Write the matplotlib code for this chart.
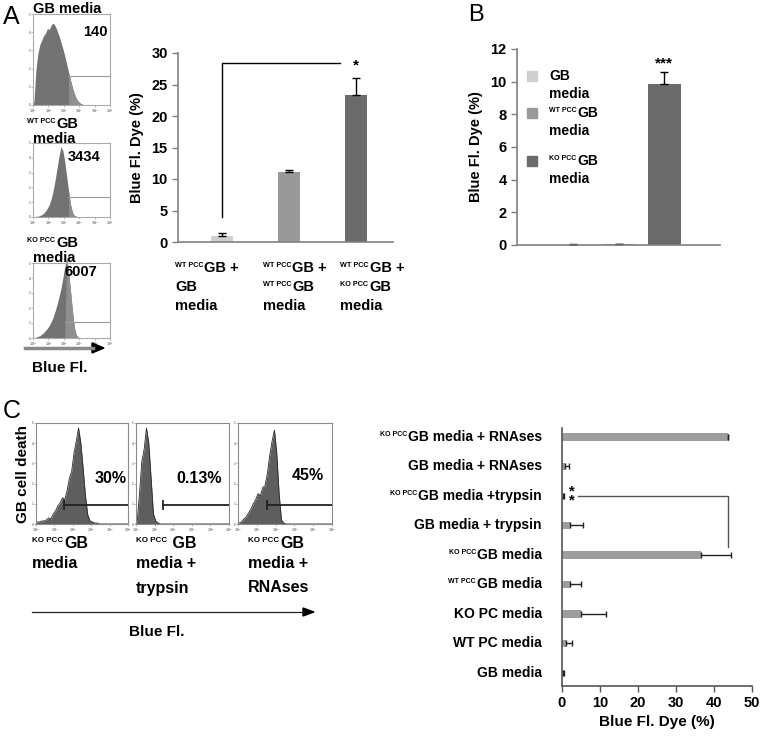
import matplotlib
matplotlib.use("Agg")
import matplotlib.pyplot as plt
import matplotlib.transforms as mtrans
import numpy as np

FONT = 'Liberation Sans'
plt.rcParams['font.family'] = [FONT, 'DejaVu Sans']
plt.rcParams['font.weight'] = 'bold'
plt.rcParams['axes.labelweight'] = 'bold'

W, H = 762, 737

# ---------------- data ----------------
# Panel A flow histograms (fraction of box height, 40 points across log axis)
histA_sup = ["", "WT PCC", "KO PCC"]
histA_main = ["GB media", "GB", "GB"]
histA_counts = ["140", "3434", "6007"]
histA1 = [0.04, 0.38, 0.56, 0.66, 0.71, 0.76, 0.79, 0.84, 0.83, 0.88,
          0.90, 0.87, 0.82, 0.76, 0.69, 0.62, 0.54, 0.45, 0.36, 0.27,
          0.19, 0.12, 0.07, 0.04, 0.02, 0.01, 0, 0, 0, 0,
          0, 0, 0, 0, 0, 0, 0, 0, 0, 0]
histA2 = [0.0, 0.01, 0.01, 0.02, 0.03, 0.05, 0.08, 0.12, 0.17, 0.25,
          0.36, 0.50, 0.66, 0.82, 0.95, 0.90, 0.75, 0.55, 0.35, 0.17,
          0.06, 0.02, 0.01, 0, 0, 0, 0, 0, 0, 0,
          0, 0, 0, 0, 0, 0, 0, 0, 0, 0]
histA3 = [0.0, 0.01, 0.02, 0.03, 0.05, 0.07, 0.10, 0.13, 0.17, 0.22,
          0.28, 0.36, 0.45, 0.55, 0.66, 0.80, 0.95, 1.07, 0.88, 0.62,
          0.36, 0.14, 0.04, 0.01, 0, 0, 0, 0, 0, 0,
          0, 0, 0, 0, 0, 0, 0, 0, 0, 0]

# Panel A bar chart
barA_lines = [[("WT PCC", "GB +"), ("", "GB"), ("", "media")],
              [("WT PCC", "GB +"), ("WT PCC", "GB"), ("", "media")],
              [("WT PCC", "GB +"), ("KO PCC", "GB"), ("", "media")]]
barA_values = [1.0, 11.1, 23.3]
barA_errors = [0.4, 0.3, 2.8]
bar_colors = ["#cfcfcf", "#999999", "#6b6b6b"]

# Panel B bar chart
barB_sup = ["", "WT PCC", "KO PCC"]
barB_main = ["GB", "GB", "GB"]
barB_values = [0.03, 0.04, 9.85]
barB_errors = [0.04, 0.03, 0.75]

# Panel C flow histograms
histC_lines = [[("KO PCC", "GB"), ("", "media")],
               [("KO PCC", " GB"), ("", "media +"), ("", "trypsin")],
               [("KO PCC", "GB"), ("", "media +"), ("", "RNAses")]]
histC_pcts = ["30%", "0.13%", "45%"]
histC1 = [0.02, 0.02, 0.03, 0.03, 0.04, 0.06, 0.05, 0.10, 0.13, 0.18,
          0.21, 0.26, 0.24, 0.33, 0.45, 0.52, 0.70, 0.82, 0.95, 0.80,
          0.55, 0.28, 0.09, 0.03, 0.02, 0.01, 0.01, 0, 0, 0,
          0, 0, 0, 0, 0, 0, 0, 0, 0, 0]
histC2 = [0.02, 0.30, 0.62, 0.74, 0.95, 0.80, 0.45, 0.10, 0.03, 0.01,
          0, 0, 0, 0, 0, 0, 0, 0, 0, 0,
          0, 0, 0, 0, 0, 0, 0, 0, 0, 0,
          0, 0, 0, 0, 0, 0, 0, 0, 0, 0]
histC3 = [0.01, 0.02, 0.05, 0.07, 0.11, 0.15, 0.20, 0.24, 0.30, 0.28,
          0.36, 0.38, 0.50, 0.68, 0.82, 0.93, 0.70, 0.30, 0.04, 0.01,
          0, 0, 0, 0, 0, 0, 0, 0, 0, 0,
          0, 0, 0, 0, 0, 0, 0, 0, 0, 0]

# Panel C bar chart (bottom to top)
barC_sup = ["", "", "", "WT PCC", "KO PCC", "", "KO PCC", "", "KO PCC"]
barC_main = ["GB media", "WT PC media", "KO PC media",
             "GB media", "GB media",
             "GB media + trypsin", "GB media +trypsin",
             "GB media + RNAses", "GB media + RNAses"]
barC_values = [0.2, 1.0, 4.9, 2.0, 36.7, 2.1, 0.3, 0.7, 43.6]
barC_errors = [0.2, 1.7, 6.6, 2.9, 7.7, 3.3, 0.2, 1.1, 0.2]

# ---------------- helpers ----------------
fig = plt.figure(figsize=(W / 100, H / 100), dpi=100)
renderer = fig.canvas.get_renderer()
PX = 100 / 72.0  # pixels per point


def R(x0, y0, x1, y1):
    return [x0 / W, 1 - y1 / H, (x1 - x0) / W, (y1 - y0) / H]


def T(x, y, s, **kw):
    return fig.text(x / W, 1 - y / H, s, **kw)


def sup_label(x, y, sup, main, fs, ha='left', ratio=0.5, trans=None, ax=None):
    """Superscript prefix + main text. x,y in px (fig) or data coords if trans."""
    sfs = fs * ratio
    dy = (0.36 * fs - 0.36 * sfs) * PX  # raise so that cap tops align
    if trans is None:
        base = mtrans.Affine2D().scale(1, -1).translate(0, H) + mtrans.IdentityTransform()
        base = mtrans.Affine2D().scale(W, H).inverted() + fig.transFigure
        base = fig.transFigure
        px, py = x / W, 1 - y / H
        trans = base
    else:
        px, py = x, y
    holder = fig if ax is None else ax
    if ha == 'left':
        if sup:
            t1 = holder.text(px, py, sup, fontsize=sfs, ha='left', va='center',
                             transform=mtrans.offset_copy(trans, fig=fig, x=0, y=dy, units='dots'))
            w = t1.get_window_extent(renderer).width + 1
        else:
            w = 0
        holder.text(px, py, main, fontsize=fs, ha='left', va='center',
                    transform=mtrans.offset_copy(trans, fig=fig, x=w, y=0, units='dots'))
    else:
        t2 = holder.text(px, py, main, fontsize=fs, ha='right', va='center', transform=trans)
        if sup:
            w = t2.get_window_extent(renderer).width + 1
            holder.text(px, py, sup, fontsize=sfs, ha='right', va='center',
                        transform=mtrans.offset_copy(trans, fig=fig, x=-w, y=dy, units='dots'))


def flow_hist(rect, vals, light_from, gate_x, gate_y, dark, light,
              spine_col, gate_col, gate_lw, gate_cap, outline=None):
    ax = fig.add_axes(R(*rect))
    n = len(vals)
    xs = (np.arange(n) + 0.5) / n
    xs = np.concatenate([[0.0], xs, [1.0]])
    v = np.concatenate([[0.0], np.array(vals, dtype=float), [0.0]])
    ax.fill_between(xs, 0, v, color=dark, lw=0, clip_on=False)
    if light_from is not None:
        m = xs >= light_from
        ax.fill_between(xs, 0, v, where=m, interpolate=True, color=light, lw=0, clip_on=False)
    if outline is not None:
        ax.plot(xs, v, color=outline, lw=0.6, clip_on=False)
    ax.plot([gate_x, 1], [gate_y, gate_y], color=gate_col, lw=gate_lw)
    if gate_cap:
        ax.plot([gate_x, gate_x], [gate_y - 0.04, gate_y + 0.04], color=gate_col, lw=gate_lw)
    ax.set_xlim(0, 1)
    ax.set_ylim(0, 1)
    ax.set_xticks(np.linspace(0, 1, 6))
    ax.set_xticklabels([r"$10^%d$" % i for i in range(6)], fontsize=2.2, color='#777777')
    ax.set_yticks(np.linspace(0, 1, 6))
    ax.set_yticklabels([str(i) for i in range(6)], fontsize=2.2, color='#777777')
    ax.tick_params(length=1.5, width=0.4, color='#888888', pad=0.5)
    for s in ax.spines.values():
        s.set_color(spine_col)
        s.set_linewidth(0.8)
    return ax


# ---------------- Panel A histograms ----------------
T(3, 17, "A", fontsize=18, fontweight='normal', va='center')
hA_rects = [(33, 14, 110, 105), (33, 143, 110, 217), (33, 263, 110, 338)]
hA_data = [histA1, histA2, histA3]
hA_light = [0.45, 0.45, 0.425]
hA_gx = [0.45, 0.45, 0.42]
hA_gy = [0.32, 0.27, 0.21]
for r, d, lf, gx, gy in zip(hA_rects, hA_data, hA_light, hA_gx, hA_gy):
    flow_hist(r, d, lf, gx, gy, '#727272', '#8f8f8f', '#aaaaaa', '#9a9a9a', 0.8, False)

fsA = 10.5
sup_label(33, 9, histA_sup[0], histA_main[0], fsA)
sup_label(27, 124, histA_sup[1], histA_main[1], fsA)
T(33, 139, "media", fontsize=fsA, va='center')
sup_label(27, 243, histA_sup[2], histA_main[2], fsA)
T(33, 258, "media", fontsize=fsA, va='center')
T(95, 32, histA_counts[0], fontsize=fsA, ha='center', va='center')
T(84, 157, histA_counts[1], fontsize=fsA, ha='center', va='center')
T(81, 272, histA_counts[2], fontsize=fsA, ha='center', va='center')

fig.add_artist(matplotlib.lines.Line2D([25 / W, 93 / W], [1 - 348 / H] * 2, color='#8a8a8a', lw=2.5))
fig.add_artist(matplotlib.patches.Polygon([[92 / W, 1 - 343 / H], [104 / W, 1 - 348 / H], [92 / W, 1 - 353 / H]],
                                          closed=True, color='black'))
T(60, 368, "Blue Fl.", fontsize=11, ha='center', va='center')

# ---------------- Panel A bar chart ----------------
axA = fig.add_axes(R(178, 53, 393, 242))
xA = np.arange(len(barA_values))
axA.bar(xA, barA_values, width=0.33, color=bar_colors,
        yerr=[np.zeros(len(barA_errors)), barA_errors], capsize=3,
        error_kw=dict(ecolor='black', elinewidth=1, capthick=1))
axA.set_xlim(-0.66, 2.55)
axA.set_ylim(0, 30)
axA.set_yticks(range(0, 31, 5))
axA.set_xticks([])
for s in ['top', 'right']:
    axA.spines[s].set_visible(False)
for s in ['left', 'bottom']:
    axA.spines[s].set_color('#808080')
    axA.spines[s].set_linewidth(1.2)
axA.tick_params(axis='y', labelsize=10.5, length=4, color='#808080', width=1)
axA.set_ylabel("Blue Fl. Dye (%)", fontsize=10.5, labelpad=5)
axA.plot([xA[0], xA[0], 1.76], [4.0, 28.4, 28.4], color='black', lw=1)
axA.text(xA[2], 28.0, "*", ha='center', va='center', fontsize=11)
labA_x = [175, 263, 340]
labA_y = [268, 287, 306]
for lx, lines in zip(labA_x, barA_lines):
    for ly, (sp, mn) in zip(labA_y, lines):
        sup_label(lx, ly, sp, mn, 10.5)

# ---------------- Panel B ----------------
T(468, 15, "B", fontsize=17, fontweight='normal', va='center')
axB = fig.add_axes(R(517, 49, 720, 245))
xB = np.arange(len(barB_values))
axB.bar(xB, barB_values, width=0.725, color=bar_colors,
        yerr=[np.zeros(len(barB_errors)), barB_errors], capsize=3,
        error_kw=dict(ecolor='black', elinewidth=1, capthick=1))
axB.set_xlim(-1.23, 3.23)
axB.set_ylim(0, 12)
axB.set_yticks(range(0, 13, 2))
axB.set_xticks([])
for s in ['top', 'right']:
    axB.spines[s].set_visible(False)
for s in ['left', 'bottom']:
    axB.spines[s].set_color('#808080')
    axB.spines[s].set_linewidth(1.2)
axB.tick_params(axis='y', labelsize=10.5, length=4, color='#808080', width=1)
axB.set_ylabel("Blue Fl. Dye (%)", fontsize=10.5, labelpad=5)
axB.text(xB[2], 11.1, "***", ha='center', va='center', fontsize=11)
legB_y = [76, 113, 161]
for i in range(3):
    fig.add_artist(matplotlib.patches.Rectangle((527 / W, 1 - (legB_y[i] + 5) / H), 10 / W, 10 / H,
                                                color=bar_colors[i]))
    sup_label(549, legB_y[i], barB_sup[i], barB_main[i], 10)
    T(549, legB_y[i] + 18, "media", fontsize=10, va='center')

# ---------------- Panel C histograms ----------------
T(3, 411, "C", fontsize=18, fontweight='normal', va='center')
hC_rects = [(36, 423, 128, 524), (136, 423, 229, 524), (238, 423, 332, 524)]
hC_data = [histC1, histC2, histC3]
hC_gx = [0.30, 0.29, 0.31]
for r, d, gx in zip(hC_rects, hC_data, hC_gx):
    flow_hist(r, d, None, gx, 0.19, '#5e5e5e', '#5e5e5e', '#8a8a8a', '#222222', 1.3, True,
              outline='#2a2a2a')
pct_pos = [(111, 478), (199, 478), (308, 476)]
for (px, py), p in zip(pct_pos, histC_pcts):
    T(px, py, p, fontsize=11.5, ha='center', va='center')
labC_x = [32, 136, 248]
labC_y = [543, 563, 588]
for lx, lines in zip(labC_x, histC_lines):
    for ly, (sp, mn) in zip(labC_y, lines):
        sup_label(lx, ly, sp, mn, 11.5)
T(23, 474, "GB cell death", fontsize=11, rotation=90, ha='center', va='center')
fig.add_artist(matplotlib.lines.Line2D([32 / W, 304 / W], [1 - 612 / H] * 2, color='#222222', lw=0.9))
fig.add_artist(matplotlib.patches.Polygon([[303 / W, 1 - 608 / H], [314 / W, 1 - 612 / H], [303 / W, 1 - 616 / H]],
                                          closed=True, color='black'))
T(157, 632, "Blue Fl.", fontsize=11, ha='center', va='center')

# ---------------- Panel C bar chart ----------------
axC = fig.add_axes(R(562, 428, 752, 686))
yC = np.arange(len(barC_values))
axC.barh(yC, barC_values, height=0.25, color='#9e9e9e',
         xerr=[np.zeros(len(barC_errors)), barC_errors], capsize=2.5,
         error_kw=dict(ecolor='#222222', elinewidth=1, capthick=1))
axC.set_xlim(0, 50)
axC.set_ylim(-0.44, 8.3)
axC.set_yticks(yC)
axC.set_yticklabels([])
axC.set_xticks(range(0, 51, 10))
axC.tick_params(axis='y', length=0)
axC.tick_params(axis='x', labelsize=10.5, length=4, color='#555555', width=1)
for s in ['top', 'right']:
    axC.spines[s].set_visible(False)
for s in ['left', 'bottom']:
    axC.spines[s].set_color('#555555')
    axC.spines[s].set_linewidth(1.2)
axC.set_xlabel("Blue Fl. Dye (%)", fontsize=11, labelpad=3)
ytrans = mtrans.offset_copy(axC.get_yaxis_transform(), fig=fig, x=-20, y=0, units='dots')
for yi, sp, mn in zip(yC, barC_sup, barC_main):
    sup_label(0, yi, sp, mn, 10, ha='right', trans=ytrans, ax=axC)
axC.plot([4.2, 43.7, 43.7], [yC[6], yC[6], 4.27], color='#555555', lw=1)
axC.text(2.7, yC[6], "*\n*", ha='center', va='center', fontsize=10.5, linespacing=0.55)

fig.savefig("out.png", dpi=100)
